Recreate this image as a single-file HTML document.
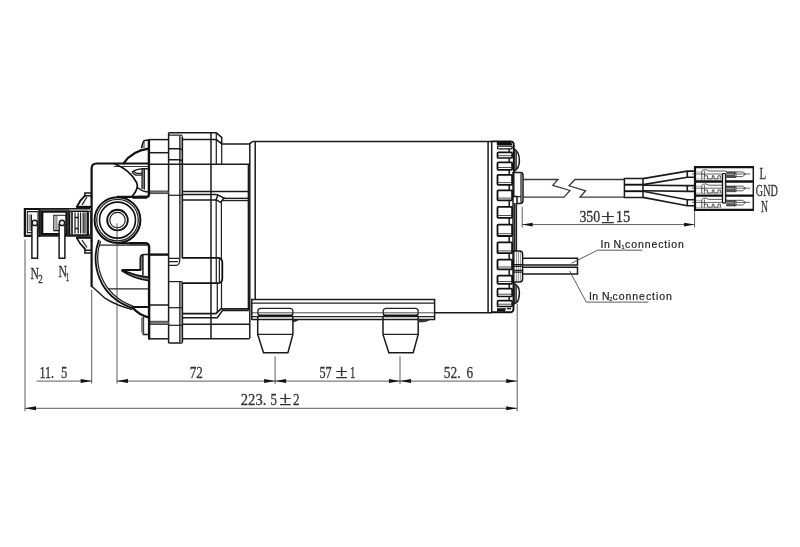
<!DOCTYPE html>
<html>
<head>
<meta charset="utf-8">
<title>Pump dimension drawing</title>
<style>
html,body{margin:0;padding:0;background:#fff;}
body{width:800px;height:547px;overflow:hidden;}
svg{display:block;will-change:transform;filter:grayscale(1) blur(.35px);}
.t{fill:none;stroke:#222;stroke-width:1.25;}
.m{fill:none;stroke:#1a1a1a;stroke-width:1.5;}
.k{fill:none;stroke:#111;stroke-width:2.2;stroke-linejoin:round;stroke-linecap:round;}
.d{fill:none;stroke:#333;stroke-width:0.8;}
.a{fill:#111;stroke:none;}
.g{fill:#8a8a8a;stroke:none;}
.w{fill:#fff;}
text{font-family:"Liberation Serif",serif;fill:#333;stroke:#333;stroke-width:.3;}
.s{font-family:"Liberation Sans",sans-serif;fill:#222;stroke:#222;stroke-width:.2;}
</style>
</head>
<body>
<svg width="800" height="547" viewBox="0 0 800 547">
<rect x="0" y="0" width="800" height="547" fill="#fff"/>

<!-- ===== MOTOR BODY ===== -->
<g id="motor">
<path class="m" d="M252.8 141.4H492"/>
<path class="m" d="M255.2 141.4V299.6"/>
<path class="m" d="M434.6 312.8H492"/>
<path class="m" d="M488.1 141.4V312.8"/>
<path class="m" style="stroke-width:1.5" d="M491.7 141.4V312.8"/>
</g>

<!-- ===== END CAP ===== -->
<g id="endcap">
<path class="k" style="stroke-width:1.9" d="M492 141.4H510.5Q513.8 141.4 513.8 145V172"/>
<path class="k" style="stroke-width:1.9" d="M513.5 283V308.8Q513.5 312.3 510 312.3H492"/>
<path class="m" d="M513 172V283"/>
<path class="m" d="M514.8 203V251"/>
<path class="t" d="M516.5 203V251"/>
</g>

<!-- ===== PUMP HEAD ===== -->
<g id="head">
<!-- flange / intermediate housing (thin lines) -->
<path class="m" d="M168.6 132.8H216.3L221.7 137.3V143.9H249.4L252.8 141.4"/>
<path class="t" d="M168.6 135.1H180.4Q182.4 135.1 182.4 137.1"/>
<path class="m" d="M168.6 132.8V342.2Q168.6 342.9 169.4 342.9H181.6Q182.4 342.9 182.4 342.2"/>
<path d="M179.8 136H182.4V257.6H179.8ZM179.8 281.6H182.4V342.5H179.8Z" fill="#c4c4c4"/>
<path class="t" d="M179.8 136V259.5Q179.8 265.4 176 265.4H168.6M179.8 281.6V342.9"/>
<path class="m" d="M182.4 137V257.6M182.4 283.2V342.5"/>
<path class="m" d="M211 132.8V338.8"/>
<path class="t" d="M216.3 132.8V164.2"/>
<path class="t" d="M221.7 143.9V164.2"/>
<path class="m" style="stroke-width:1.5" d="M182.4 139.6H216.3L221.7 143.9"/>
<path class="m" d="M168.6 148.7H179.8L182.4 149.8"/>
<path class="m" d="M168.6 159.7H179.8L182.4 160.8"/>
<path class="m" d="M149 139.6H168.6"/>
<path class="m" d="M149 152.7H168.6"/>
<path class="m" d="M149 164.2H249.4"/>
<path class="g" style="fill:#777" d="M149 191.2H168.6V193.4H149Z"/>
<path class="t" style="stroke-width:.8" d="M149 191H168.6M149 193.6H168.6"/>
<path class="t" d="M168.6 195.3H182.4"/>
<path class="m" d="M182.4 191.5H249"/>
<path class="m" d="M182.4 194.5H215.5Q217 194.5 218 195"/>
<path class="m" d="M182.4 200H216"/>
<path class="m" d="M224 198.4H249"/>
<path class="t" d="M222 200.6H249"/>
<path class="t" d="M216.2 200V257"/>
<path class="t" d="M221.4 201.5V259"/>
<path class="m" d="M216 199.7L218 195L224 198L220.6 202.3Z"/>
<path class="m" d="M249.8 143.9V338.5"/>
<path class="m" d="M248.4 164.2V310"/>
<!-- middle recess -->
<path class="k" style="stroke-width:1.8" d="M182.4 257.8H217.4Q222.3 257.8 222.3 262.6V278.4Q222.3 283.2 217.4 283.2H182.4"/>
<path class="t" d="M219.4 258.6V282.4"/>
<path class="t" d="M216.3 257.8V283.2"/>
<path class="t" d="M168.6 258.4H179.8M168.6 261.6H178"/>
<path class="t" d="M168.6 281.6H182.4"/>
<path class="t" d="M217.3 282.8V313"/>
<path class="t" d="M221.5 281V309"/>
<path class="m" style="stroke-width:1.7" d="M182.4 313.7H215.8L221 308.8H248.8"/>
<path class="m" d="M182.4 317.8H217.3L222.5 310.5H248.8"/>
<path class="m" d="M182.4 324.2H249"/>
<path class="t" d="M168.6 307.7H182.4"/>
<path class="t" d="M168.6 325.3H182.4"/>
<path class="m" d="M149 305H168.6"/>
<path class="g" style="fill:#777" d="M149 321.4H168.6V324.3H149Z"/>
<path class="t" style="stroke-width:.8" d="M149 321.3H168.6M149 324.5H168.6"/>
<path class="m" d="M149 338.8H168.6"/>
<path class="m" d="M182.4 338.8H249.4"/>

<!-- thick outline of front head -->
<path class="k" style="stroke-width:2.4" d="M148.9 140.2V194.5Q148.9 196.9 146.5 196.9H138"/>
<path class="g" style="fill:#999" d="M141.4 148L143.9 140.3H145V148Z"/>
<path class="m" d="M148.9 140.2H145.5Q143.6 140.3 143 142.5L141.4 148.2"/>
<path class="k" d="M123.6 163.3Q132 150.8 148.7 148.6"/>
<path class="k" d="M91.6 197V168.5Q91.6 163.5 96.6 163.5H148.9"/>
<path class="t" style="stroke-width:.9" d="M114 166.5H148.5"/>
<path class="k" d="M91.6 241V286.2"/>
<path class="k" d="M91.6 197V241"/>
<path class="k" style="stroke-width:1.7" d="M114.5 163.8Q130 170 136.6 182.5Q139.2 188.5 132 196.5"/>
<path class="m" d="M137.6 187.5Q142 191.5 148 192"/>
<path class="g" style="fill:#8c8c8c" d="M142 169H144.4V189H142Z"/>
<path class="m" d="M131.9 172.4Q135.5 169.2 142.6 168.8H148"/>
<path class="t" d="M142 169V189M144.4 169V189.5"/>
<path class="t" d="M131.9 172.4L135.5 175H142M133.5 171.5L136.5 173.4H142"/>
<!-- lower part -->
<path class="k" style="stroke-width:2.4" d="M130 243.3H145Q149.1 243.3 149.1 247.5V338.6"/>
<path class="t" d="M99 245H147"/>
<path class="k" style="stroke-width:2.4;stroke-linecap:butt" d="M149.2 254.6H168.6"/>
<path class="k" style="stroke-width:1.8" d="M98.7 240.6C91 262 97 296 132.5 308"/>
<path class="t" d="M100.6 241C93.2 262 99.5 294 133.5 306.3"/>
<path class="m" d="M91.8 286.2L105 298.2Q118 306.5 132.5 309.4"/>
<path class="k" d="M132.5 307H149.2"/>
<path class="k" d="M133 308Q139 315 149.2 317.6"/>
<path class="t" d="M108 288.8H149"/>
<path class="g" style="fill:#7c7c7c" d="M142.9 254.6Q140.2 255 140.2 259V270H142.9Z"/>
<path class="m" d="M149 254.4H143.2Q140.4 254.6 140.2 258.5V269.7"/>
<path class="m" d="M142.9 255V275.6"/>
<path d="M121.9 270.8Q133.5 278.6 149 280.7V277.3Q136 276 124.8 271Z" fill="#777" stroke="#111" stroke-width="1.4" stroke-linejoin="round"/>
<path class="k" style="stroke-width:2" d="M122.3 270H140.4"/>
<path class="m" d="M143.4 317V334.6H149"/>
<path class="g" style="fill:#808080" d="M141 317.4H143.4V334.6Q141 333.5 141 330.5Z"/>

<!-- port circles -->
<circle class="k" cx="117.5" cy="220.1" r="22.9" style="fill:#fff;stroke-width:2"/>
<circle class="t" cx="117.5" cy="220.1" r="20.8"/>
<circle class="k" cx="117.5" cy="220.1" r="18" style="stroke-width:1.6"/>
<circle class="k" cx="117.5" cy="220.1" r="10.3" style="stroke-width:1.9"/>
<circle class="m" cx="117.5" cy="220.1" r="7.7" style="stroke-width:1.1"/>
<path class="k" style="stroke-width:2.2" d="M117.5 196.9H146.5"/>
<path class="t" d="M132.4 198.2H147"/>
<path class="k" style="stroke-width:2" d="M117.5 243.3H145"/>
</g>


<g id="fins">
<path d="M496.8 142H510.5Q512 142.2 512.3 145.2H496.8Z" fill="#111"/>
<path d="M497 308.2H506L505 311.4H497Z" fill="#111"/>
<path class="m" d="M507 308.6H511"/>
<rect class="k" style="stroke-width:1.2;stroke-linejoin:miter" x="497.5" y="146.2" width="14.6" height="2.6" rx="0.8"/>
<rect class="k" style="stroke-width:1.7;stroke-linejoin:miter" x="497.5" y="152.4" width="14.6" height="5.6" rx="0.8"/>
<path class="t" style="stroke-width:.8" d="M498 155.7H511.5"/>
<rect class="k" style="stroke-width:1.8;stroke-linejoin:miter" x="497.5" y="162.4" width="14.6" height="7.4" rx="0.8"/>
<path class="t" style="stroke-width:.8" d="M498 167.5H511.5"/>
<rect class="k" style="stroke-width:1.8;stroke-linejoin:miter" x="497.5" y="174.8" width="14.6" height="10.1" rx="0.8"/>
<path class="t" style="stroke-width:.8" d="M498 182.6H511.5"/>
<rect class="k" style="stroke-width:1.8;stroke-linejoin:miter" x="497.5" y="190.4" width="14.6" height="10.0" rx="0.8"/>
<path class="t" style="stroke-width:.8" d="M498 198.1H511.5"/>
<rect class="k" style="stroke-width:1.8;stroke-linejoin:miter" x="497.5" y="206.9" width="14.6" height="10.9" rx="0.8"/>
<path class="t" style="stroke-width:.8" d="M498 215.5H511.5"/>
<rect class="k" style="stroke-width:1.8;stroke-linejoin:miter" x="497.5" y="224.7" width="14.6" height="11.3" rx="0.8"/>
<path class="t" style="stroke-width:.8" d="M498 233.7H511.5"/>
<rect class="k" style="stroke-width:1.8;stroke-linejoin:miter" x="497.5" y="242.3" width="14.6" height="10.9" rx="0.8"/>
<path class="t" style="stroke-width:.8" d="M498 250.9H511.5"/>
<rect class="k" style="stroke-width:1.8;stroke-linejoin:miter" x="497.5" y="259.6" width="14.6" height="9.7" rx="0.8"/>
<path class="t" style="stroke-width:.8" d="M498 267.0H511.5"/>
<rect class="k" style="stroke-width:1.8;stroke-linejoin:miter" x="497.5" y="275.6" width="14.6" height="8.2" rx="0.8"/>
<path class="t" style="stroke-width:.8" d="M498 281.5H511.5"/>
<rect class="k" style="stroke-width:1.7;stroke-linejoin:miter" x="497.5" y="288.7" width="14.6" height="7.8" rx="0.8"/>
<path class="t" style="stroke-width:.8" d="M498 294.2H511.5"/>
<rect class="k" style="stroke-width:1.6;stroke-linejoin:miter" x="497.5" y="300.6" width="14.6" height="5.9" rx="0.8"/>
<path class="t" style="stroke-width:.8" d="M498 304.2H511.5"/>
<path class="m" d="M509.2 148.8V152.4"/>
<path class="m" d="M509.2 158V162.4"/>
<path class="m" d="M509.2 169.8V174.8"/>
<path class="m" d="M509.2 184.9V190.4"/>
<path class="m" d="M509.2 200.4V206.9"/>
<path class="m" d="M509.2 217.8V224.7"/>
<path class="m" d="M509.2 236V242.3"/>
<path class="m" d="M509.2 253.2V259.6"/>
<path class="m" d="M509.2 269.3V275.6"/>
<path class="m" d="M509.2 283.8V288.7"/>
<path class="m" d="M509.2 296.5V300.6"/>
<!-- dome bumps -->
<path class="m" d="M513.8 148.7Q519.4 152 519.4 160.5Q519.4 168.5 513.8 171.6"/>
<path class="t" d="M514.8 150V171"/>
<path class="t" d="M516.2 151V170"/>
<path class="m" d="M513.5 282.8Q519.4 286 519.4 292.5Q519.4 299 517 302.4L513.5 304.2"/>
<path class="t" d="M514.8 284V303.5"/>
<path class="t" d="M516.2 285V303"/>
</g>

<g id="cable">
<!-- grommet 1 -->
<path class="m" style="fill:#fff" d="M513.8 172.5H520.3Q523 172.5 523 175.2V200.6Q523 203.5 520.2 203.5H517V196.6H513.8Z"/>
<path class="t" d="M521 173.5V202.5"/>
<path class="t" d="M517 196.6H521"/>
<!-- cable -->
<path class="m" style="stroke-width:1.3;stroke:#3a3a3a" d="M523 179.5H558L552.8 185.3L570 190.5L564 197.1H523"/>
<path class="m" style="stroke-width:1.3;stroke:#3a3a3a" d="M624.4 179.5H575L569 185.8L585.6 190.8L580 197.1H624.4"/>
<!-- sleeve -->
<path class="m" style="stroke-width:1.5" d="M624.4 178.5H643V197.5H624.4Z"/>
<path class="k" style="stroke-width:1.9;stroke-linecap:butt" d="M624.4 184.7H643"/>
<path class="k" style="stroke-width:1.9;stroke-linecap:butt" d="M624.4 191.2H643"/>
<!-- wires -->
<path class="m" style="stroke-width:1.6" d="M643 178.6L687.3 171.1H694.5"/>
<path class="m" style="stroke-width:1.6" d="M643 184.6L687.3 177.3H694.5"/>
<path class="m" style="stroke-width:1.6" d="M643 185.2L687.3 185.6H694.5"/>
<path class="m" style="stroke-width:1.6" d="M643 190.8L687.3 191.4H694.5"/>
<path class="m" style="stroke-width:1.6" d="M643 191.3L687.3 199.7H694.5"/>
<path class="m" style="stroke-width:1.6" d="M643 197.4L687.3 205.8H694.5"/>
<path class="m" style="stroke-width:1.6" d="M687.3 171.1V177.3M687.3 185.6V191.4M687.3 199.7V205.8"/>
<!-- connector housing -->
<path class="k" style="stroke-width:2.2;stroke-linecap:butt;stroke-linejoin:miter" d="M753.4 167.2H695V209.9H753.4"/>
<path class="k" style="stroke-width:2.3;stroke-linecap:butt" d="M695 181.5H753.4M695 195.7H753.4"/>
<path class="m" style="stroke-width:1.5" d="M753.3 166.1V211"/>
<!-- connector inner terminals -->
<g id="term">
<path class="t" style="stroke-width:.7" d="M691.8 174H750"/>
<path class="t" style="stroke-width:.75" d="M701.8 179.7V171.2Q702.5 169.6 706 169.7L708.8 171H725L727.6 171.9H742.5L745.6 174L742.5 176.6H727"/>
<path class="t" style="stroke-width:.7" d="M704.4 171V179.7"/>
<path class="t" style="stroke-width:.75" d="M704.4 175.8H707.5V178.8H712.3V175.8H714V178.8H718V175.8H720.4V178.8"/>
<path class="t" style="stroke-width:.6;stroke:#777" d="M696 178.9H722M696 172H701.8"/>
<path class="g" style="fill:#9a9a9a" d="M726.3 172.3H734.6V177.5H726.3Z"/>
<path class="t" style="stroke-width:.7" d="M726.3 172.3H736V177.5H726.3M726.3 173.2H734.6M726.3 175.6H734.6M726.3 176.6H734.6M734.6 172.3V177.5"/>
</g>
<use href="#term" y="14.2"/>
<use href="#term" y="28.4"/>
<rect x="722.4" y="173.5" width="3.3" height="29.6" rx="1.2" style="fill:#ddd;stroke:#111;stroke-width:1.2"/>

<!-- grommet 2 -->
<path class="k" style="stroke-width:1.4;fill:#fff" d="M513.8 251H519.8Q522.6 251 522.6 254V279Q522.6 282 519.8 282H513.8Z"/>
<path class="t" style="stroke:#888;stroke-width:.9" d="M516.4 252V281M518.4 252V281M520.4 252V281"/>
<path class="k" style="stroke-width:1.4" d="M513.8 264.6H522.6"/>
<path class="t" d="M513.8 266.4H522.6M513.8 270.3H522.6M513.8 272.2H522.6"/>
<!-- N wires -->
<path class="m" d="M522.7 258.2H577.5V265H522.7"/>
<path class="m" d="M522.7 267.2H577.5V274H522.7"/>
</g>

<g id="bracket">
<path class="m" d="M251.8 299.5H434.6V319.4H251.8Z"/>
<path class="t" d="M251.8 303.2H434.6"/>
<path class="t" d="M251.8 316.5H434.6"/>
<!-- foot 1 -->
<g id="foot">
<path class="m" d="M257.7 316.5V334.4L263.5 352.7H287.9L292.9 334.4V316.5"/>
<path class="t" d="M257.7 334.4H292.9"/>
<path class="t w" d="M260.9 308.3H289.9Q292.9 308.3 292.9 311.3V312.9Q292.9 315.5 290.2 315.5H260.6Q257.9 315.5 257.9 312.9V311.3Q257.9 308.3 260.9 308.3Z"/>
<path class="k" style="stroke-width:1.6" d="M258.6 315.2H292.2"/>
<path d="M292.8 319.4H298.6Q297.5 321.6 293 322Z" fill="#222"/>
</g>
<use href="#foot" x="125.3"/>
<path d="M418.1 319.4H430.4Q428 322.3 418.3 322.3Z" fill="#333"/>
<path class="t" style="stroke-width:.8" d="M251.8 312.8H434.6"/>
</g>

<g id="lconn">
<!-- left N1/N2 connector -->
<path class="m" d="M90 208.7H24.5V236H90"/>
<path class="k" style="stroke-width:1.9;stroke-linejoin:miter" d="M25 209H39.4V235.7H25Z"/>
<path class="m" style="stroke-width:1.1" d="M27.3 211.6H38V232.6H27.3Z"/>
<path class="g" style="fill:#999" d="M28.4 214.5H30.8V231H28.4Z"/>
<path class="t" d="M31.4 214.5V231"/>
<path class="t" d="M40.3 209.8H68.7V235.2H40.3Z"/>
<path class="k" style="stroke-width:2.3;stroke-linejoin:miter" d="M42.2 211.7H66.7V234.1H42.2Z"/>
<path class="m" style="stroke-width:1.1" d="M53.8 215.2H66V230.6H53.8Z"/>
<path class="g" style="fill:#999" d="M55.2 216H57.6V230H55.2Z"/>
<path class="k" style="stroke-width:1.5;stroke-linejoin:miter" d="M69.6 211.2H87.3V235H69.6Z"/>
<path class="k" style="stroke-width:1.6;stroke-linecap:butt" d="M72 212V234.2"/>
<path class="t" d="M75 212.5V233.6M78.2 212.5V233.6M80.6 212.5V233.6M83.2 212.5V233.6M85 212.5V233.6"/>
<path class="m" d="M75 217.5H78.2M75 228.5H78.2"/>
<path class="t" d="M88.4 211.4H90.7V234.8H88.4Z"/>
<!-- pins -->
<path class="m w" d="M31.9 224V258.2H37.6V224"/>
<circle class="m w" cx="34.8" cy="222.9" r="2.6"/>
<path class="m w" d="M59.1 224V258.2H64.9V224"/>
<circle class="m w" cx="62" cy="222.9" r="2.6"/>
<!-- side fittings between connector and head -->
<path class="m" d="M91.4 192.9H84.9V195.8H91.4"/>
<path class="k" style="stroke-width:1.8" d="M84.9 195.8Q79.5 200.5 76.8 206.8"/>
<path class="t" d="M87 197L82 204.9"/>
<path class="k" style="stroke-width:2.4;stroke-linecap:butt" d="M76.5 207H91.4"/>
<path class="k" style="stroke-width:2.2;stroke-linecap:butt" d="M76.5 237.7H91.4"/>
<path class="k" style="stroke-width:1.8" d="M76.8 238Q79.5 244 84.9 248.7"/>
<path class="t" d="M82 240L87 247.5"/>
<path class="m" d="M84.9 248.7V253.1H91.4M84.9 250.2H91.4"/>
</g>

<!-- ===== DIMENSIONS ===== -->
<g id="dims">
<!-- extension lines -->
<path class="d" d="M25 239.5V411.2"/>
<path class="d" d="M91.7 290V383.6"/>
<path class="d" d="M117 223.3V383.6"/>
<path class="d" d="M275.1 356.4V384"/>
<path class="d" d="M400 356.4V384"/>
<path class="d" d="M517.2 304V411.2"/>
<path class="d" d="M522.2 206.8V227.5"/>
<path class="d" d="M694.6 211V227.5"/>
<!-- dim lines -->
<path class="d" d="M36.6 381.1H91.7"/>
<path class="a" d="M91.7 381.1L80.7 379.1V383.1Z"/>
<path class="d" d="M117 381.1H517.2"/>
<path class="a" d="M117 381.1L128 379.1V383.1Z"/>
<path class="a" d="M275.1 381.1L264.1 379.1V383.1Z"/><path class="a" d="M275.1 381.1L286.1 379.1V383.1Z"/>
<path class="a" d="M400 381.1L389 379.1V383.1Z"/><path class="a" d="M400 381.1L411 379.1V383.1Z"/>
<path class="a" d="M517.2 381.1L506.2 379.1V383.1Z"/>
<path class="d" d="M25 408.3H517.2"/>
<path class="a" d="M25 408.3L36 406.3V410.3Z"/><path class="a" d="M517.2 408.3L506.2 406.3V410.3Z"/>
<path class="d" d="M522.2 224.6H694.6"/>
<path class="a" d="M522.2 224.6L532.7 222.7V226.5Z"/><path class="a" d="M694.6 224.6L684.1 222.7V226.5Z"/>
<!-- dim text -->
<text x="39.4" y="378" font-size="17.2" textLength="14.6" lengthAdjust="spacingAndGlyphs">11.</text><text x="61" y="378" font-size="17.2" textLength="6.3" lengthAdjust="spacingAndGlyphs">5</text>
<text x="189.7" y="377.8" font-size="17.2" textLength="13.2" lengthAdjust="spacingAndGlyphs">72</text>
<text x="319.5" y="377.5" font-size="17.2" textLength="12.2" lengthAdjust="spacingAndGlyphs">57</text><text x="335.5" y="378.1" font-size="19.5" textLength="12.2" lengthAdjust="spacingAndGlyphs">±</text><text x="350" y="377.5" font-size="17.2" textLength="5.4" lengthAdjust="spacingAndGlyphs">1</text>
<text x="443.8" y="377.8" font-size="17.2" textLength="16.8" lengthAdjust="spacingAndGlyphs">52.</text><text x="466.4" y="377.8" font-size="17.2" textLength="6.6" lengthAdjust="spacingAndGlyphs">6</text>
<text x="240.8" y="404.5" font-size="17.2" textLength="25.6" lengthAdjust="spacingAndGlyphs">223.</text><text x="270.5" y="404.5" font-size="17.2" textLength="6.4" lengthAdjust="spacingAndGlyphs">5</text><text x="279.2" y="405.1" font-size="19.5" textLength="12.2" lengthAdjust="spacingAndGlyphs">±</text><text x="293" y="404.5" font-size="17.2" textLength="6.6" lengthAdjust="spacingAndGlyphs">2</text>
<text x="579.4" y="222" font-size="17.2" textLength="20.8" lengthAdjust="spacingAndGlyphs">350</text><text x="600.9" y="222.6" font-size="19.5" textLength="13.6" lengthAdjust="spacingAndGlyphs">±</text><text x="615.8" y="222" font-size="17.2" textLength="14.6" lengthAdjust="spacingAndGlyphs">15</text>
<!-- labels -->
<text x="759.5" y="179" font-size="17" textLength="6.6" lengthAdjust="spacingAndGlyphs">L</text>
<text x="755.8" y="195.6" font-size="17" textLength="22" lengthAdjust="spacingAndGlyphs">GND</text>
<text x="761" y="211.8" font-size="17" textLength="7" lengthAdjust="spacingAndGlyphs">N</text>
<text x="30.6" y="278.6" font-size="17.5" textLength="8.5" lengthAdjust="spacingAndGlyphs">N</text>
<text x="38.2" y="282.8" font-size="12" textLength="4.5" lengthAdjust="spacingAndGlyphs">2</text>
<text x="58.6" y="276.6" font-size="17.5" textLength="8.5" lengthAdjust="spacingAndGlyphs">N</text>
<text x="65.8" y="280.8" font-size="12" textLength="3.5" lengthAdjust="spacingAndGlyphs">1</text>
<!-- leaders -->
<path class="d" d="M571.4 263.3L597.6 250.2H642.3"/>
<path class="d" d="M569.6 271L586.3 302.1H648.4"/>
<text class="s" x="600.6" y="248.4" font-size="10.5" textLength="20.6" lengthAdjust="spacing">In N</text><text class="s" x="621.4" y="249.4" font-size="5.5">1</text><text class="s" x="625.1" y="248.4" font-size="10.5" textLength="58.8" lengthAdjust="spacing">connection</text>
<text class="s" x="588.9" y="299.5" font-size="10.5" textLength="20.6" lengthAdjust="spacing">In N</text><text class="s" x="609.3" y="300.6" font-size="5.5">2</text><text class="s" x="612.6" y="299.5" font-size="10.5" textLength="59.2" lengthAdjust="spacing">connection</text>
</g>
</svg>
</body>
</html>
